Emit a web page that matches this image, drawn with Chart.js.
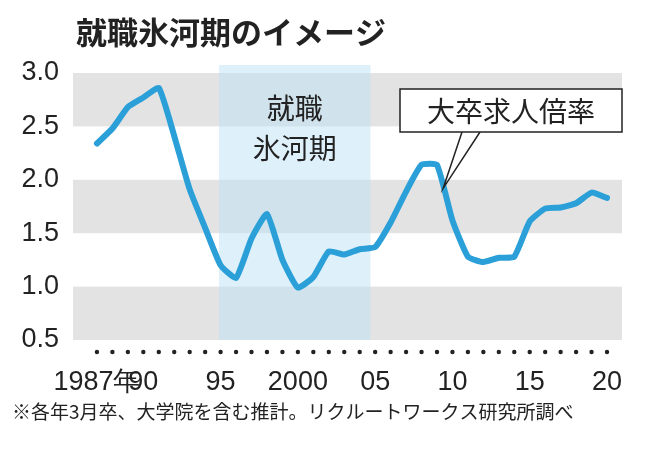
<!DOCTYPE html><html><head><meta charset="utf-8">
<script src="https://cdn.jsdelivr.net/npm/chart.js@4"></script>
<style>body{margin:0;background:#fff}#w{width:658px;height:458px}</style></head><body><div id="w"><canvas id="c"></canvas></div>
<script>
const years=[1987,1988,1989,1990,1991,1992,1993,1994,1995,1996,1997,1998,1999,2000,2001,2002,2003,2004,2005,2006,2007,2008,2009,2010,2011,2012,2013,2014,2015,2016,2017,2018,2019,2020];
const ratio=[2.34,2.48,2.68,2.77,2.86,2.41,1.91,1.55,1.20,1.08,1.45,1.68,1.25,0.99,1.09,1.33,1.30,1.35,1.37,1.60,1.89,2.14,2.14,1.62,1.28,1.23,1.27,1.28,1.61,1.73,1.74,1.78,1.88,1.83];
const xTicks=[1987,1990,1995,2000,2005,2010,2015,2020];
const xLabels={1987:'1987年',1990:'90',1995:'95',2000:'2000',2005:'05',2010:'10',2015:'15',2020:'20'};
const yTicks=[0.5,1.0,1.5,2.0,2.5,3.0];
const stripes=[[0.5,1.0],[1.5,2.0],[2.5,3.0]];
const band=[1994.9,2004.7];
const title='就職氷河期のイメージ';
const note='※各年3月卒、大学院を含む推計。リクルートワークス研究所調べ';
const F='"Liberation Sans Narrow","Liberation Sans",sans-serif';
const J='"Noto Sans CJK JP",sans-serif';
const deco={id:'deco',
beforeDatasetsDraw(ch){const{ctx,chartArea:a,scales:{x,y}}=ch;ctx.save();
ctx.fillStyle='#e3e3e3';stripes.forEach(s=>{ctx.fillRect(a.left,y.getPixelForValue(s[1]),a.right-a.left,y.getPixelForValue(s[0])-y.getPixelForValue(s[1]));});
ctx.fillStyle='rgba(190,225,245,0.5)';const b0=x.getPixelForValue(band[0]),b1=x.getPixelForValue(band[1]);ctx.fillRect(b0,a.top-8,b1-b0,a.bottom-a.top+8);
ctx.fillStyle='#222';ctx.font='28px '+J;ctx.textAlign='center';ctx.textBaseline='middle';const cx=(b0+b1)/2;ctx.fillText('就職',cx,108);ctx.fillText('氷河期',cx,148);
ctx.restore();},
afterDatasetsDraw(ch){const{ctx,chartArea:a,scales:{x,y}}=ch;ctx.save();
ctx.fillStyle='#222';years.forEach(v=>{ctx.beginPath();ctx.arc(x.getPixelForValue(v),352,2.2,0,7);ctx.fill();});
ctx.font='bold 31px '+J;ctx.textAlign='left';ctx.textBaseline='middle';ctx.fillText(title,76,32);
ctx.font='19px '+J;ctx.fillText(note,12,412);
const px=x.getPixelForValue(2009.4),py=y.getPixelForValue(1.92);
ctx.fillStyle='#fff';ctx.strokeStyle='#222';ctx.lineWidth=1.5;
ctx.beginPath();ctx.moveTo(462,132);ctx.lineTo(px,py);ctx.lineTo(480,132);ctx.stroke();
ctx.fillRect(400,89,222,43);ctx.strokeRect(400,89,222,43);
ctx.fillStyle='#222';ctx.font='28px '+J;ctx.textAlign='center';ctx.fillText('大卒求人倍率',511,111);
ctx.restore();}};
new Chart(document.getElementById('c'),{type:'line',
data:{datasets:[{data:years.map((v,i)=>({x:v,y:ratio[i]})),borderColor:'#2a9fd8',borderWidth:6,pointRadius:0,tension:0.15,borderCapStyle:'round',borderJoinStyle:'round'}]},
options:{responsive:true,maintainAspectRatio:false,animation:false,
layout:{padding:{top:73,right:36,bottom:60,left:0}},
plugins:{legend:{display:false},tooltip:{enabled:false}},
scales:{x:{type:'linear',min:1985.45,max:2020.97,grid:{display:false},border:{display:false},
afterBuildTicks(s){s.ticks=xTicks.map(v=>({value:v}));},afterFit(s){s.height=58;},
ticks:{autoSkip:false,maxRotation:0,padding:18,color:'#222',font:{family:F,size:27},callback:v=>xLabels[v]}},
y:{min:0.5,max:3.0,grid:{display:false},border:{display:false},
afterBuildTicks(s){s.ticks=yTicks.map(v=>({value:v}));},afterFit(s){s.width=73;},
ticks:{padding:6,color:'#222',font:{family:F,size:27},callback:v=>v.toFixed(1)}}}},
plugins:[deco]});
</script></body></html>
